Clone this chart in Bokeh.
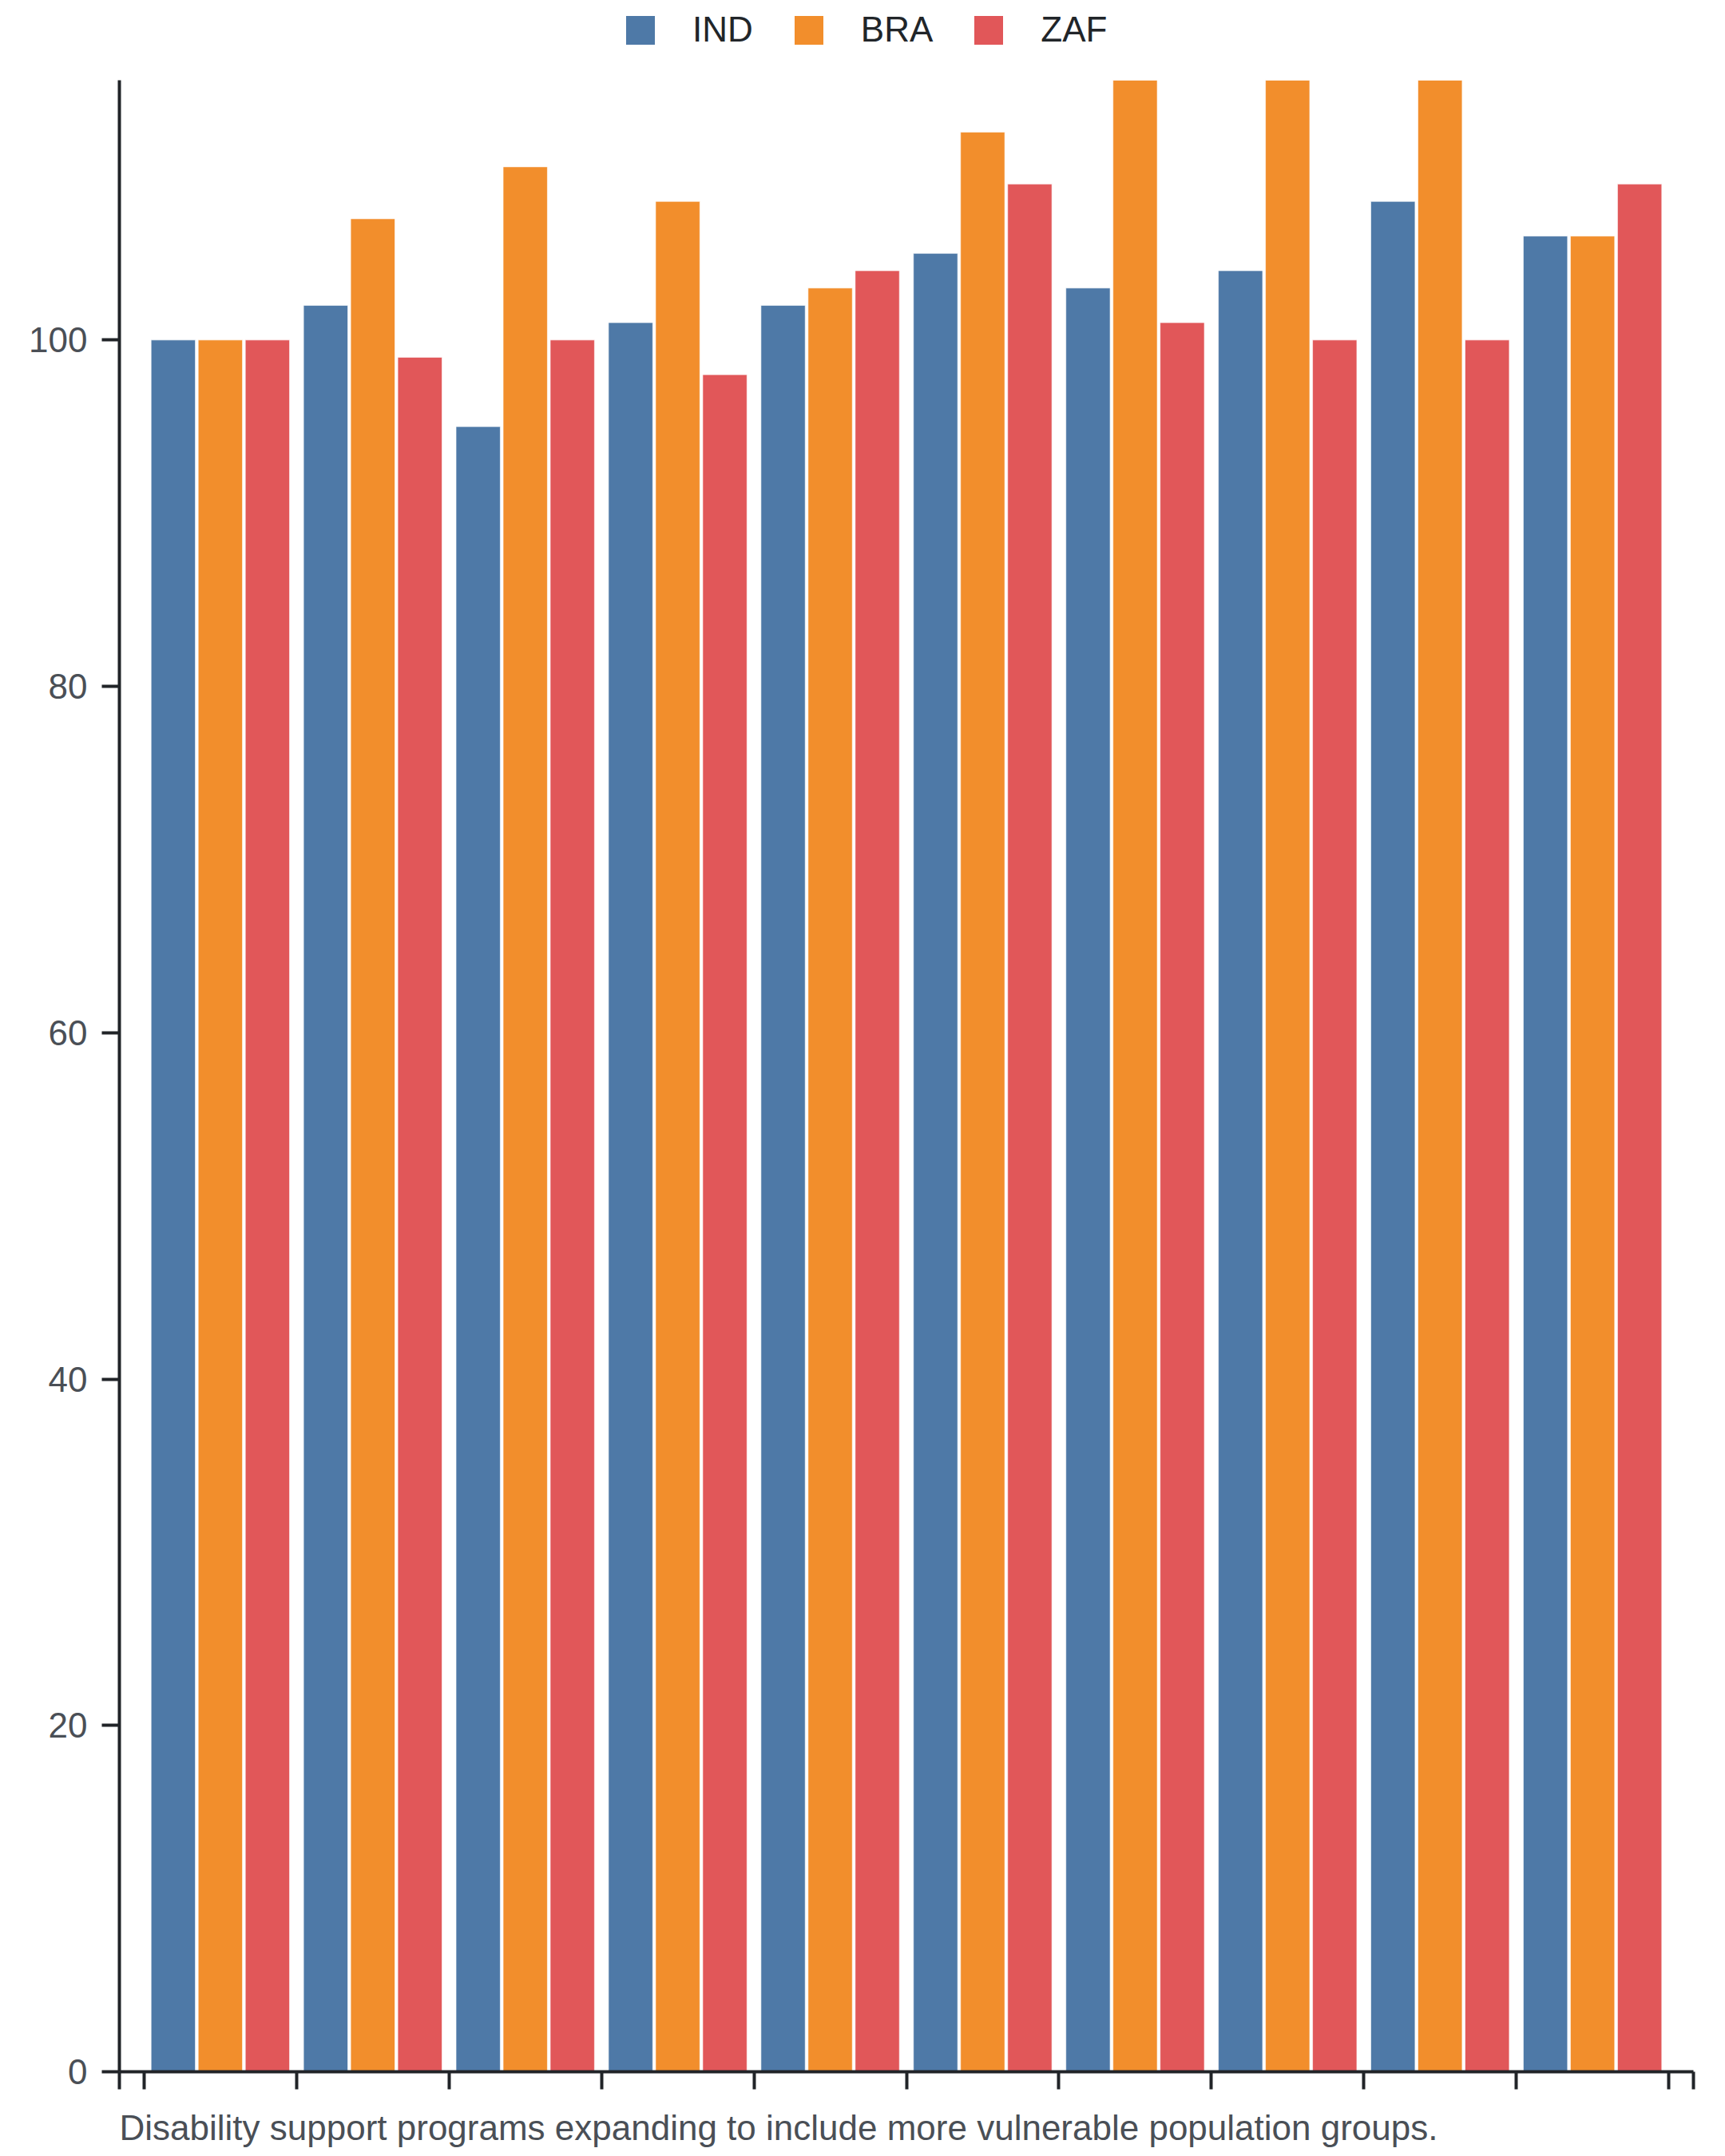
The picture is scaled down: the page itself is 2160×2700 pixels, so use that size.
from bokeh.plotting import figure
from bokeh.layouts import column
from bokeh.models import (ColumnDataSource, FixedTicker, Legend, LegendItem, Label,
                          Range1d, CustomJSTickFormatter)
from bokeh.transform import dodge
from bokeh.embed import file_html
from bokeh.resources import INLINE

# ---- data ----
groups = [1, 2, 3, 4, 5, 6, 7, 8, 9, 10]
ind = [100, 102, 95, 101, 102, 105, 103, 104, 108, 106]
bra = [100, 107, 110, 108, 103, 112, 117, 120, 118, 106]
zaf = [100, 99, 100, 98, 104, 109, 101, 100, 100, 109]
series_names = ["IND", "BRA", "ZAF"]
series_colors = ["#4e79a7", "#f28e2c", "#e15759"]
y_ticks = [0, 20, 40, 60, 80, 100]
caption = "Disability support programs expanding to include more vulnerable population groups."

FONT = "Liberation Sans"

source = ColumnDataSource(dict(
    x=[g - 0.5 for g in groups],
    IND=ind, BRA=bra, ZAF=zaf,
))

# ---- main chart ----
p = figure(width=2160, height=2524, output_backend="svg", toolbar_location=None,
           x_range=Range1d(-0.162, 10.162), y_range=Range1d(0, 115),
           min_border_left=149, min_border_right=40, min_border_top=0,
           min_border_bottom=30)
p.outline_line_color = None
p.xgrid.visible = False
p.ygrid.visible = False
p.background_fill_color = "white"
p.border_fill_color = "white"

offsets = [-0.309, 0.0, 0.309]
for name, color, off in zip(series_names, series_colors, offsets):
    p.vbar(x=dodge("x", off, range=p.x_range), top=name, bottom=0, width=0.29,
           source=source, fill_color=color, line_color="white", line_width=1,
           line_alpha=0.6)

axis_color = "#212428"
label_color = "#4a4f56"
for ax in (p.xaxis[0], p.yaxis[0]):
    ax.axis_line_color = axis_color
    ax.axis_line_width = 4
    ax.major_tick_line_color = axis_color
    ax.major_tick_line_width = 4
    ax.major_tick_out = 22
    ax.major_tick_in = 0
    ax.minor_tick_line_color = None
    ax.major_label_text_font = FONT
    ax.major_label_text_font_size = "44px"
    ax.major_label_text_color = label_color

p.yaxis.ticker = FixedTicker(ticks=y_ticks)
p.yaxis.major_label_standoff = 18

x_ticks = [-0.162] + [g - 1 for g in groups] + [len(groups), len(groups) + 0.162]
p.xaxis.ticker = FixedTicker(ticks=x_ticks)
p.xaxis.formatter = CustomJSTickFormatter(code="return ''")
p.xaxis.major_label_standoff = 0
p.xaxis.major_label_text_font_size = "1px"

# ---- legend strip above the chart (its frame is aligned with the chart's frame) ----
lg = figure(width=2160, height=100, output_backend="svg", toolbar_location=None,
            x_range=Range1d(-0.162, 10.162), y_range=Range1d(0, 115),
            x_axis_type=None, y_axis_type=None,
            min_border_left=0, min_border_right=0, min_border_top=0, min_border_bottom=0)
lg.xgrid.visible = False
lg.ygrid.visible = False
lg.outline_line_color = None
legend_items = []
for name, color, off in zip(series_names, series_colors, offsets):
    r = lg.vbar(x=dodge("x", off, range=lg.x_range), top=name, bottom=0, width=0.29,
                source=source, fill_color=color, line_color=None, visible=False)
    legend_items.append(LegendItem(label=name, renderers=[r]))

legend = Legend(items=legend_items, location=(630, 38), orientation="horizontal",
                glyph_width=45, glyph_height=45, label_standoff=43, spacing=47,
                padding=0, margin=0, border_line_color=None, background_fill_alpha=0,
                inactive_fill_alpha=0,
                label_text_font=FONT, label_text_font_size="44px",
                label_text_color="#212529", label_text_baseline="middle")
lg.add_layout(legend)

# ---- caption strip below the chart ----
cf = figure(width=2160, height=76, output_backend="svg", toolbar_location=None,
            x_range=Range1d(0, 1), y_range=Range1d(0, 1),
            x_axis_type=None, y_axis_type=None,
            min_border_left=0, min_border_right=0, min_border_top=0, min_border_bottom=0)
cf.xgrid.visible = False
cf.ygrid.visible = False
cf.outline_line_color = None
cf.add_layout(Label(x=0, y=36, x_units="screen", y_units="screen", text=caption,
                    text_font=FONT, text_font_size="44px", text_color=label_color,
                    text_baseline="alphabetic", text_align="left"))

layout = column(lg, p, cf, spacing=0)
open("out.html", "w").write(file_html(layout, INLINE))
